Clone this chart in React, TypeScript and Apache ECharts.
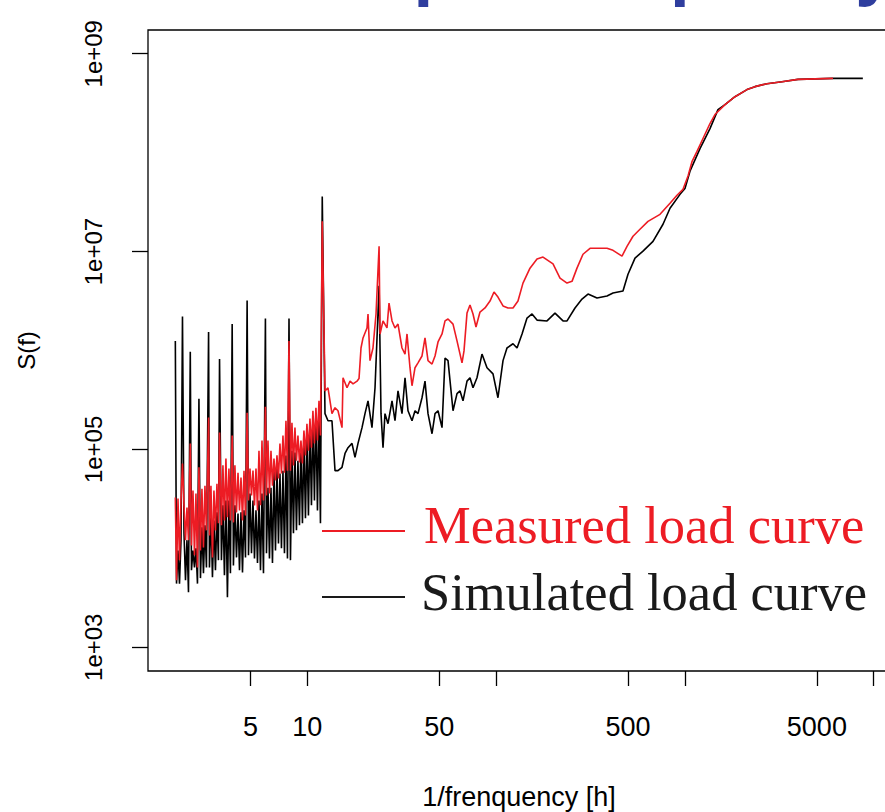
import React, { useEffect, useRef } from 'react';
import * as echarts from 'echarts';

// Axis ticks and labels (log scales)
const xTickValues = [5, 10, 50, 100, 500, 1000, 5000, 10000];
const xLabelValues = [5, 10, 50, 500, 5000];
const yTickValues = [1e3, 1e5, 1e7, 1e9];

// [1/frequency (h), S(f)] — measured load curve
const measured: [number, number][] = [
  [2.0, 3.27e4], [2.029, 4.76e3], [2.066, 3.19e4], [2.104, 7.57e3], [2.143, 3.05e4], [2.182, 7.2e4],
  [2.223, 2.72e4], [2.264, 1.21e4], [2.305, 2.59e4], [2.348, 1.21e4], [2.4, 1.15e5], [2.435, 1.07e4],
  [2.48, 3.85e4], [2.526, 8.5e3], [2.572, 3.59e4], [2.62, 6.4e3], [2.667, 6.6e4], [2.717, 9.5e3],
  [2.767, 4.0e4], [2.818, 1.02e4], [2.87, 4.3e4], [2.923, 1.52e4], [3.0, 2.1e5], [3.032, 1.35e4],
  [3.088, 4.3e4], [3.145, 8.1e3], [3.203, 3.85e4], [3.262, 1.52e4], [3.322, 4.5e4], [3.383, 1.79e4],
  [3.429, 1.48e5], [3.509, 1.71e4], [3.574, 6.9e4], [3.64, 1.91e4], [3.707, 8.1e4], [3.775, 2.06e4],
  [3.845, 6.4e4], [3.916, 1.91e4], [4.0, 1.38e5], [4.061, 1.83e4], [4.136, 6.9e4], [4.217, 2.31e4],
  [4.295, 5.8e4], [4.374, 2.42e4], [4.455, 5.2e4], [4.537, 1.91e4], [4.621, 6.1e4], [4.706, 2.15e4],
  [4.8, 2.35e5], [4.881, 3.05e4], [4.971, 6.4e4], [5.063, 3.42e4], [5.156, 6.1e4], [5.251, 2.72e4],
  [5.348, 6.4e4], [5.447, 2.42e4], [5.547, 9.7e4], [5.65, 2.72e4], [5.754, 1.23e5], [5.86, 3.05e4],
  [6.0, 2.7e5], [6.078, 3.42e4], [6.19, 1.23e5], [6.304, 3.59e4], [6.421, 9.7e4], [6.539, 4.3e4],
  [6.66, 8.1e4], [6.783, 4.85e4], [6.908, 8.7e4], [7.035, 5.1e4], [7.165, 1.15e5], [7.297, 5.7e4],
  [7.432, 1.38e5], [7.569, 5.8e4], [7.708, 1.95e5], [7.851, 6.1e4], [8.0, 1.25e6], [8.143, 6.1e4],
  [8.293, 1.86e5], [8.446, 6.9e4], [8.602, 1.66e5], [8.761, 7.7e4], [8.922, 1.38e5], [9.087, 7.4e4],
  [9.255, 1.23e5], [9.425, 7.2e4], [9.599, 1.55e5], [9.777, 8.7e4], [9.957, 1.82e5], [10.14, 9.7e4],
  [10.33, 2.05e5], [10.52, 1.04e5], [10.71, 2.46e5], [10.91, 1.15e5], [11.11, 2.64e5], [11.32, 1.23e5],
  [11.53, 3.1e5], [11.74, 1.38e5],
  [12, 2.02e7], [12.41, 3.9e5], [12.87, 4.2e5], [13.51, 2.3e5], [14.02, 2.64e5], [14.54, 2.46e5],
  [15.27, 1.66e5], [15.46, 5.3e5], [16.23, 4.2e5], [16.84, 4.9e5], [17.47, 4.6e5], [18.34, 4.9e5],
  [18.79, 5.2e5], [19.25, 1.06e6], [19.73, 1.34e6], [20.71, 1.69e6], [20.97, 2.34e6], [21.48, 7.9e5],
  [22.28, 1.06e6], [23.12, 2.34e6], [24, 1.13e7], [24.28, 1.47e6], [25.18, 1.99e6], [26.43, 1.69e6],
  [27.09, 3.02e6], [28.1, 1.99e6], [29.14, 1.69e6], [30.23, 1.85e6], [31.74, 1.06e6], [32.93, 9.2e5],
  [33.74, 1.47e6], [34.99, 6.7e5], [35.86, 4.4e5], [37.2, 6.7e5], [38.58, 7.5e5], [40.51, 8.8e5],
  [42.02, 1.34e6], [43.59, 7.9e5], [45.77, 7.3e5], [47.48, 8.8e5], [49.25, 1.22e6], [51.71, 1.47e6],
  [53.64, 1.99e6], [55.63, 2.08e6], [59.13, 1.85e6], [62.08, 1.25e6], [65.99, 7.5e5], [67.61, 9.9e5],
  [70.13, 2.39e6], [72.74, 2.88e6], [75.46, 2.34e6], [78.26, 1.73e6], [82.16, 2.45e6], [87.34, 2.69e6],
  [92.83, 3.16e6], [97.48, 3.9e6], [102.3, 3.47e6], [108.8, 2.82e6], [115.6, 2.69e6], [122.9, 2.69e6],
  [130.6, 3.16e6], [138.8, 4.8e6], [151.2, 6.8e6], [164.7, 8.4e6], [177.2, 8.8e6], [200.2, 7.5e6],
  [218, 5.4e6], [237.5, 4.8e6], [252.4, 5.0e6], [268.2, 6.8e6], [288.6, 9.4e6], [314.4, 1.08e7],
  [355.1, 1.08e7], [386.7, 1.08e7], [416.1, 1.03e7], [464.4, 9.0e6], [493.6, 1.13e7], [531.1, 1.43e7],
  [578.3, 1.68e7], [637.6, 2.02e7], [738.3, 2.38e7], [834, 3.08e7], [908.1, 3.71e7], [977.2, 4.26e7],
  [1039, 5.8e7], [1090, 8.1e7], [1159, 1.03e8], [1247, 1.39e8], [1358, 1.97e8], [1443, 2.43e8],
  [1631, 3.06e8], [1842, 3.68e8], [2133, 4.34e8], [2351, 4.65e8], [2721, 4.98e8], [3268, 5.22e8],
  [3972, 5.51e8], [6087, 5.64e8],
];

// [1/frequency (h), S(f)] — simulated load curve
const simulated: [number, number][] = [
  [2.0, 1.25e6], [2.029, 4.4e3], [2.066, 9.5e3], [2.104, 4.4e3], [2.143, 1.21e4], [2.182, 2.2e6],
  [2.223, 1.42e4], [2.264, 4.76e3], [2.305, 1.21e4], [2.348, 3.6e3], [2.4, 9.7e5], [2.435, 6.0e3],
  [2.48, 9.5e3], [2.526, 6.4e3], [2.572, 1.0e4], [2.62, 4.4e3], [2.667, 3.25e5], [2.717, 5.0e3],
  [2.767, 1.63e4], [2.818, 5.6e3], [2.87, 1.71e4], [2.923, 6.4e3], [3.0, 1.54e6], [3.032, 6.4e3],
  [3.088, 2.25e4], [3.145, 5.1e3], [3.203, 1.91e4], [3.262, 6.0e3], [3.322, 2.31e4], [3.383, 7.6e3],
  [3.429, 8.2e5], [3.509, 7.6e3], [3.574, 2.72e4], [3.64, 5.35e3], [3.707, 3.05e4], [3.775, 3.2e3],
  [3.845, 3.05e4], [3.916, 5.6e3], [4.0, 1.85e6], [4.061, 6.7e3], [4.136, 2.72e4], [4.217, 8.1e3],
  [4.295, 2.25e4], [4.374, 6.0e3], [4.455, 2.31e4], [4.537, 5.7e3], [4.621, 2.42e4], [4.706, 8.1e3],
  [4.8, 3.2e6], [4.881, 8.5e3], [4.971, 3.59e4], [5.063, 8.9e3], [5.156, 3.05e4], [5.251, 7.9e3],
  [5.348, 2.42e4], [5.447, 7.1e3], [5.547, 3.05e4], [5.65, 6.0e3], [5.754, 3.59e4], [5.86, 5.6e3],
  [6.0, 2.1e6], [6.078, 8.9e3], [6.19, 4.1e4], [6.304, 7.9e3], [6.421, 4.1e4], [6.539, 7.1e3],
  [6.66, 6.1e4], [6.783, 9.5e3], [6.908, 6.6e4], [7.035, 1.12e4], [7.165, 5.7e4], [7.297, 1.0e4],
  [7.432, 6.1e4], [7.569, 8.9e3], [7.708, 8.7e4], [7.851, 7.9e3], [8.0, 2.1e6], [8.143, 7.6e3],
  [8.293, 9.7e4], [8.446, 1.42e4], [8.602, 9.3e4], [8.761, 1.52e4], [8.922, 7.7e4], [9.087, 1.71e4],
  [9.255, 1.09e5], [9.425, 1.79e4], [9.599, 1.23e5], [9.777, 2.01e4], [9.957, 1.38e5], [10.14, 2.15e4],
  [10.33, 1.66e5], [10.52, 2.72e4], [10.71, 1.95e5], [10.91, 3.05e4], [11.11, 2.3e5], [11.32, 2.42e4],
  [11.53, 2.46e5], [11.74, 1.79e4],
  [12, 3.6e7], [12.41, 2.3e5], [12.87, 1.95e5], [13.51, 1.95e5], [14.02, 6.1e4], [14.54, 6.1e4],
  [15.27, 6.6e4], [15.84, 9.1e4], [16.43, 1.04e5], [17.25, 1.15e5], [17.89, 8.3e4], [18.56, 1.15e5],
  [19.49, 1.66e5], [20.21, 2.3e5], [20.97, 3.1e5], [22.01, 1.66e5], [22.84, 4.2e5], [24, 4.5e6],
  [24.57, 2.3e5], [25.18, 1.04e5], [25.79, 2.3e5], [26.76, 1.82e5], [28.1, 3.1e5], [29.14, 1.95e5],
  [30.23, 3.9e5], [31.74, 2.3e5], [32.93, 5.3e5], [34.15, 2.46e5], [35.86, 1.95e5], [37.2, 2.46e5],
  [38.58, 2.3e5], [40.51, 3.33e5], [42.02, 4.9e5], [43.59, 2.3e5], [45.77, 1.44e5], [47.48, 2.3e5],
  [49.25, 2.46e5], [51.71, 1.66e5], [53.64, 8.4e5], [55.63, 7.9e5], [59.13, 2.46e5], [62.08, 3.66e5],
  [64.4, 3.9e5], [66.8, 3.1e5], [70.13, 4.9e5], [72.74, 5.3e5], [75.46, 4.2e5], [79.22, 5.3e5],
  [84.19, 9.2e5], [89.49, 6.7e5], [96.29, 5.8e5], [102.3, 3.33e5], [108.8, 7.9e5], [114.2, 1.06e6],
  [122.9, 1.17e6], [129.1, 1.06e6], [137.2, 1.47e6], [145.8, 2.13e6], [155, 2.34e6], [164.7, 2.03e6],
  [186.1, 1.99e6], [205.1, 2.39e6], [226.2, 1.99e6], [237.5, 1.99e6], [261.8, 2.69e6], [285.1, 3.31e6],
  [306.8, 3.72e6], [342.3, 3.39e6], [386.7, 3.55e6], [416.1, 3.81e6], [470, 4.0e6], [499.6, 5.9e6],
  [544.2, 8.6e6], [599.9, 1.01e7], [677.8, 1.27e7], [765.6, 1.89e7], [834, 2.74e7], [942.1, 3.79e7],
  [1001, 4.35e7], [1064, 6.5e7], [1202, 1.1e8], [1358, 1.75e8], [1497, 2.72e8], [1631, 3.06e8],
  [1842, 3.68e8], [2133, 4.34e8], [2351, 4.65e8], [2721, 4.98e8], [3268, 5.22e8], [3972, 5.51e8],
  [6087, 5.64e8], [8760, 5.64e8],
];

const SANS = '"Liberation Sans", Arial, sans-serif';
const SERIF = '"Liberation Serif", "Times New Roman", serif';
const RED = '#ed1c24';

function expLabel(v: number): string {
  const e = Math.round(Math.log10(v));
  return '1e+' + (e < 10 ? '0' : '') + e;
}

export default function App() {
  const ref = useRef<HTMLDivElement>(null);
  useEffect(() => {
    document.body.style.margin = '0';
    const chart = echarts.init(ref.current as HTMLDivElement, null, { renderer: 'svg' });
    chart.setOption({
      animation: false,
      backgroundColor: '#ffffff',
      grid: {
        left: 148,
        top: 30,
        width: 742,
        height: 641,
        show: true,
        borderColor: '#000',
        borderWidth: 1.3,
        backgroundColor: 'transparent',
        containLabel: false,
        outerBoundsMode: 'none',
      },
      xAxis: {
        type: 'log',
        logBase: 10,
        min: 1.433,
        max: 12200,
        name: '1/frenquency [h]',
        nameLocation: 'middle',
        nameGap: 112,
        nameTextStyle: { fontFamily: SANS, fontSize: 27, color: '#000' },
        axisLine: { show: false },
        axisTick: {
          show: true,
          inside: false,
          length: 15,
          lineStyle: { color: '#000', width: 1.3 },
          customValues: xTickValues,
        },
        axisLabel: {
          show: true,
          customValues: xLabelValues,
          formatter: (v: number) => String(Math.round(v)),
          margin: 42,
          fontSize: 27,
          fontFamily: SANS,
          color: '#000',
        },
        splitLine: { show: false },
        minorTick: { show: false },
      },
      yAxis: {
        type: 'log',
        logBase: 10,
        min: 575.4,
        max: 1.738e9,
        name: 'S(f)',
        nameLocation: 'middle',
        nameGap: 110,
        nameRotate: 90,
        nameTextStyle: { fontFamily: SANS, fontSize: 24, color: '#000' },
        axisLine: { show: false },
        axisTick: {
          show: true,
          inside: false,
          length: 16,
          lineStyle: { color: '#000', width: 1.3 },
          customValues: yTickValues,
        },
        axisLabel: {
          show: true,
          customValues: yTickValues,
          formatter: (v: number) => expLabel(v),
          rotate: 90,
          margin: 43,
          fontSize: 24,
          fontFamily: SANS,
          color: '#000',
        },
        splitLine: { show: false },
        minorTick: { show: false },
      },
      series: [
        {
          type: 'line',
          name: 'Simulated load curve',
          data: simulated,
          showSymbol: false,
          symbol: 'none',
          silent: true,
          z: 2,
          lineStyle: { color: '#000', width: 1.6 },
          itemStyle: { color: '#000' },
        },
        {
          type: 'line',
          name: 'Measured load curve',
          data: measured,
          showSymbol: false,
          symbol: 'none',
          silent: true,
          z: 3,
          lineStyle: { color: RED, width: 1.6 },
          itemStyle: { color: RED },
        },
      ],
      graphic: [
        {
          type: 'text',
          silent: true,
          z: 10,
          style: {
            text: 'Example Frequency',
            x: 224,
            y: -33,
            fontFamily: SANS,
            fontWeight: 'bold',
            fontSize: 71,
            fill: '#2f3e9e',
            align: 'left',
            verticalAlign: 'middle',
          },
        },
        {
          type: 'line',
          silent: true,
          z: 10,
          shape: { x1: 322, y1: 531, x2: 405, y2: 531 },
          style: { stroke: RED, lineWidth: 2 },
        },
        {
          type: 'text',
          silent: true,
          z: 10,
          style: {
            text: 'Measured load curve',
            x: 424,
            y: 525,
            fontFamily: SERIF,
            fontSize: 52.5,
            fill: RED,
            align: 'left',
            verticalAlign: 'middle',
          },
        },
        {
          type: 'line',
          silent: true,
          z: 10,
          shape: { x1: 322, y1: 597, x2: 405, y2: 597 },
          style: { stroke: '#1a1a1a', lineWidth: 2 },
        },
        {
          type: 'text',
          silent: true,
          z: 10,
          style: {
            text: 'Simulated load curve',
            x: 421,
            y: 592,
            fontFamily: SERIF,
            fontSize: 52.5,
            fill: '#1a1a1a',
            align: 'left',
            verticalAlign: 'middle',
          },
        },
      ],
    });
    return () => chart.dispose();
  }, []);
  return <div ref={ref} style={{ width: 885, height: 812, background: '#fff' }} />;
}
